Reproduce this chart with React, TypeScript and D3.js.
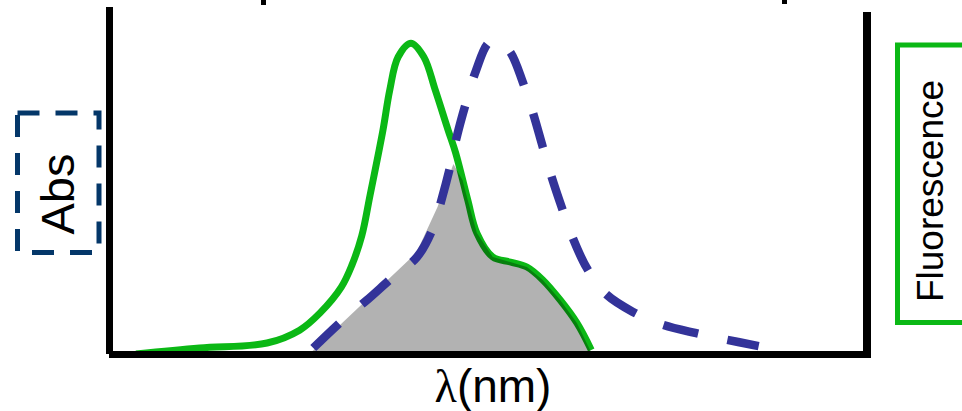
import React from 'react';
import { scaleLinear, line, area, curveCatmullRom, curveLinear } from 'd3';

// wavelength in arbitrary units (0..100 across the axis), intensity normalised 0..1
const fluorescenceX = [3.5, 11.9, 20.8, 25.1, 27.8, 30.6, 32.0, 33.3, 34.4, 36.1, 37.0, 38.1, 39.8, 41.5, 43.0, 44.7, 45.7, 47.3, 48.5, 50.6, 52.9, 55.1, 57.2, 59.5, 61.7, 63.6];
const fluorescenceY = [0.0, 0.019, 0.035, 0.076, 0.131, 0.213, 0.283, 0.376, 0.506, 0.713, 0.841, 0.946, 0.99, 0.946, 0.841, 0.713, 0.64, 0.49, 0.385, 0.309, 0.293, 0.277, 0.236, 0.172, 0.099, 0.013];

const absorbanceX = [26.9, 30.8, 34.0, 37.4, 40.6, 42.6, 43.9, 45.0, 45.9, 47.1, 48.4, 50.0, 51.2, 52.9, 54.6, 55.9, 57.2, 58.4, 59.5, 61.1, 63.0, 65.4, 69.1, 72.7, 77.3, 81.0, 85.7];
const absorbanceY = [0.019, 0.108, 0.172, 0.245, 0.309, 0.395, 0.497, 0.599, 0.697, 0.803, 0.904, 0.99, 1.0, 0.962, 0.863, 0.768, 0.659, 0.561, 0.481, 0.373, 0.274, 0.194, 0.134, 0.096, 0.067, 0.048, 0.025];

// spectral overlap region
const overlapX = [26.8, 40.5, 43.3, 45.4, 46.6, 47.3, 48.5, 50.6, 52.9, 55.1, 57.2, 59.5, 61.7, 63.5];
const overlapY = [0.0, 0.322, 0.468, 0.605, 0.554, 0.49, 0.385, 0.309, 0.293, 0.277, 0.236, 0.172, 0.099, 0.0];

const width = 962;
const height = 411;

const green = '#0bb815';
const blue = '#333399';
const navy = '#043769';

type Pt = [number, number];
const zip = (xs: number[], ys: number[]): Pt[] => xs.map((x, i) => [x, ys[i]]);

const App = () => {
  const x = scaleLinear().domain([0, 100]).range([109.5, 867]);
  const y = scaleLinear().domain([0, 1]).range([354, 40]);

  const spectrum = line<Pt>()
    .x(d => x(d[0]))
    .y(d => y(d[1]))
    .curve(curveCatmullRom.alpha(0.5));

  const overlap = area<Pt>()
    .x(d => x(d[0]))
    .y0(y(0) - 3)
    .y1(d => y(d[1]) + (d[1] === 0 ? -3 : 0))
    .curve(curveLinear);

  return (
    <svg width={width} height={height} style={{ position: 'absolute', left: 0, top: 0, background: '#fff' }}>
      {/* cut-off marks at the top edge */}
      <rect x={261} y={0} width={5} height={5} fill="#000" />
      <rect x={782} y={0} width={5} height={4} fill="#000" />

      <path d={spectrum(zip(fluorescenceX, fluorescenceY)) || ''} fill="none" stroke={green} strokeWidth={7} />
      <path d={overlap(zip(overlapX, overlapY)) || ''} fill="#000" fillOpacity={0.3} />
      <path
        d={spectrum(zip(absorbanceX, absorbanceY)) || ''}
        fill="none"
        stroke={blue}
        strokeWidth={8.5}
        strokeDasharray="35.5 30"
      />

      {/* axes frame */}
      <line x1={109.5} x2={109.5} y1={7} y2={354} stroke="#000" strokeWidth={7} />
      <line x1={109} x2={871} y1={354.5} y2={354.5} stroke="#000" strokeWidth={7} />
      <line x1={867} x2={867} y1={12} y2={358} stroke="#000" strokeWidth={8} />

      <text
        x={493}
        y={402}
        textAnchor="middle"
        fontFamily="'Liberation Sans', Arial, sans-serif"
        fontSize={46}
        fill="#000"
      >
        <tspan fontFamily="'Liberation Serif', 'Times New Roman', serif">λ</tspan>(nm)
      </text>

      {/* Abs label */}
      <rect x={17.5} y={113} width={81.5} height={139.5} fill="none" stroke={navy} strokeWidth={5} strokeDasharray="22 16" />
      <text
        transform="translate(74,194) rotate(-90)"
        textAnchor="middle"
        fontFamily="'Liberation Sans', Arial, sans-serif"
        fontSize={47}
        fill="#000"
      >
        Abs
      </text>

      {/* Fluorescence label */}
      <rect x={897.5} y={45} width={100} height={277.5} fill="none" stroke={green} strokeWidth={5} />
      <text
        transform="translate(943,191) rotate(-90)"
        textAnchor="middle"
        fontFamily="'Liberation Sans', Arial, sans-serif"
        fontSize={37}
        fill="#000"
      >
        Fluorescence
      </text>
    </svg>
  );
};

export default App;
